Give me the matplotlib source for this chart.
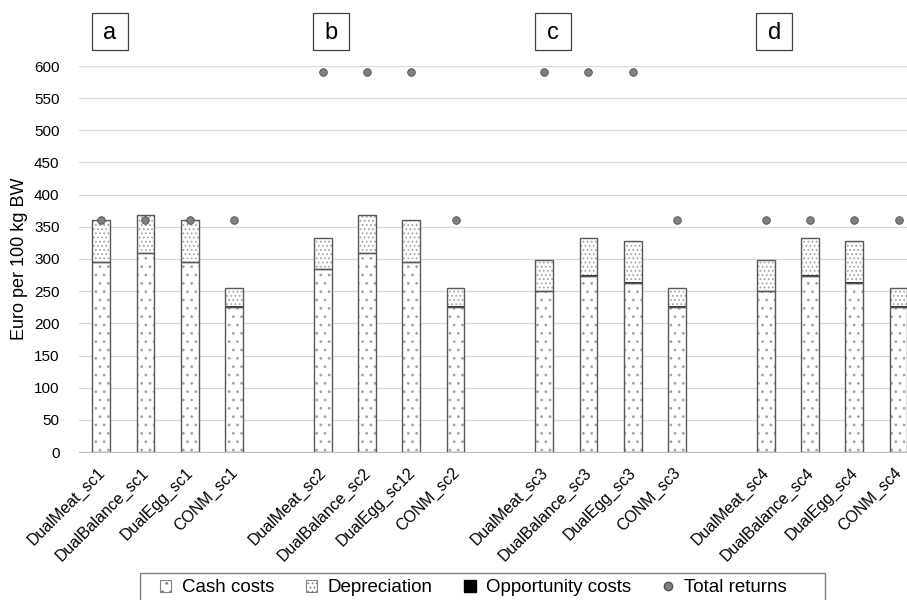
import numpy as np
import matplotlib.pyplot as plt
from matplotlib.patches import Patch, Rectangle
from matplotlib.lines import Line2D

plt.rcParams['font.family'] = ['Liberation Sans', 'DejaVu Sans']
plt.rcParams['hatch.linewidth'] = 0.8

labels = ["DualMeat_sc1", "DualBalance_sc1", "DualEgg_sc1", "CONM_sc1", "",
          "DualMeat_sc2", "DualBalance_sc2", "DualEgg_sc12", "CONM_sc2", "",
          "DualMeat_sc3", "DualBalance_sc3", "DualEgg_sc3", "CONM_sc3", "",
          "DualMeat_sc4", "DualBalance_sc4", "DualEgg_sc4", "CONM_sc4"]
cash = [295, 309, 295, 226, np.nan,
        284, 309, 295, 226, np.nan,
        250, 274, 263, 226, np.nan,
        250, 274, 263, 226]
depreciation = [64, 59, 64, 28, np.nan,
                47, 59, 64, 28, np.nan,
                47, 58, 64, 28, np.nan,
                47, 58, 64, 28]
opportunity = [1, 1, 1, 1, np.nan,
               1, 1, 1, 1, np.nan,
               1, 1, 1, 1, np.nan,
               1, 1, 1, 1]
returns = [360, 360, 360, 360, np.nan,
           590, 590, 590, 360, np.nan,
           590, 590, 590, 360, np.nan,
           360, 360, 360, 360]
panels = ["a", "b", "c", "d"]
panel_pos = [0, 5, 10, 15]

cash = np.array(cash)
dep = np.array(depreciation)
opp = np.array(opportunity)
ret = np.array(returns)
x = np.arange(len(labels))
ok = ~np.isnan(cash)

edge = "#595959"
fig = plt.figure(figsize=(9.07, 6.0), dpi=100)
ax = fig.add_axes([79/907, 148/600, 828/907, 386/600])

w = 0.4
ax.bar(x[ok], cash[ok], w, color="white", edgecolor="#a6a6a6", hatch="..", lw=0, zorder=2)
ax.bar(x[ok], opp[ok], w, bottom=cash[ok], color="#262626", lw=0, zorder=2)
ax.bar(x[ok], dep[ok], w, bottom=cash[ok] + opp[ok], color="white", edgecolor="#a6a6a6", hatch="....", lw=0, zorder=2)
ax.bar(x[ok], cash[ok], w, fill=False, edgecolor=edge, lw=1, zorder=3)
ax.bar(x[ok], dep[ok] + opp[ok], w, bottom=cash[ok], fill=False, edgecolor=edge, lw=1, zorder=3)
ax.scatter(x[ok], ret[ok], s=30, color="#7f7f7f", edgecolor="#505050", lw=0.6, zorder=4)

ax.set_ylim(0, 600)
ax.set_yticks(np.arange(0, 601, 50))
ax.set_xlim(-0.5, 18.19)
ax.set_xticks(x[ok])
ax.set_xticklabels([])
# category labels, rotated, ending just below each bar
for i in x[ok]:
    ax.annotate(labels[i], (i, 0), xytext=(-3, -9.5), textcoords="offset points",
                rotation=45, ha="right", va="top", rotation_mode="anchor", fontsize=11.5)
ax.tick_params(axis="y", length=0, labelsize=11, pad=14)
ax.tick_params(axis="x", length=0)
ax.grid(axis="y", color="#d9d9d9", lw=0.9, zorder=0)
ax.set_axisbelow(True)
for s in ["top", "right", "left"]:
    ax.spines[s].set_visible(False)
ax.spines["bottom"].set_color("#bfbfbf")
ax.set_ylabel("Euro per 100 kg BW", fontsize=13, labelpad=4)

# panel letters in square boxes above each group
for p, px in zip(panels, panel_pos):
    ax.add_patch(Rectangle((px - 0.21, 625), 0.81, 57, fc="white", ec="#404040", lw=0.9, clip_on=False))
    ax.text(px + 0.195, 652, p, fontsize=17, ha="center", va="center", clip_on=False)

handles = [Patch(facecolor="white", edgecolor="#808080", hatch="..", lw=0.8),
           Patch(facecolor="white", edgecolor="#808080", hatch="....", lw=0.8),
           Patch(facecolor="black", edgecolor="black"),
           Line2D([], [], marker="o", ls="none", color="#7f7f7f", mec="#505050", ms=6)]
leg = fig.legend(handles, ["Cash costs", "Depreciation", "Opportunity costs", "Total returns"],
                 loc="center left", bbox_to_anchor=(160/907, 1 - 588/600), ncol=4, fontsize=13.5,
                 handlelength=0.6, handleheight=0.6, handletextpad=0.55, columnspacing=1.7,
                 frameon=False, borderpad=0, borderaxespad=0)
fig.add_artist(Rectangle((140/907, -0.02), 685/907, 0.02 + 27/600, transform=fig.transFigure,
                         fill=False, ec="#808080", lw=1))

fig.savefig("out.png", dpi=100)
